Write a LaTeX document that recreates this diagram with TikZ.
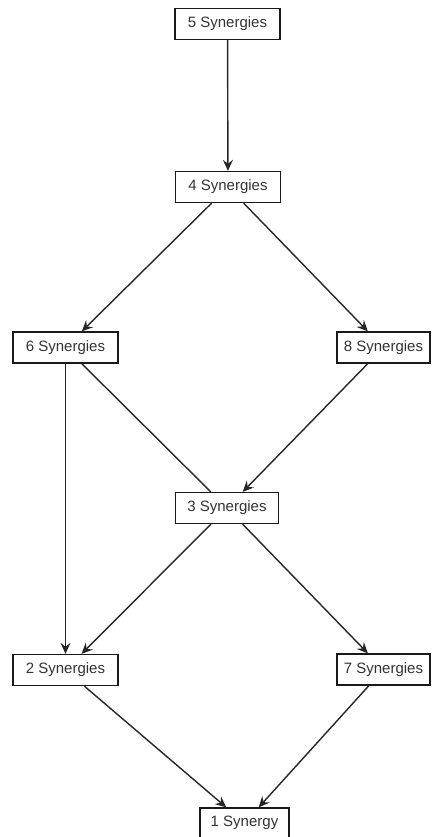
\documentclass[tikz,border=0pt]{standalone}
\usepackage{fontspec}
\setmainfont{Liberation Sans}
\usetikzlibrary{arrows.meta}
\begin{document}
\begin{tikzpicture}[x=1pt,y=-1pt,
  box/.style={draw=black!90, line width=1.3pt, fill=white, rectangle,
    minimum width=105pt, minimum height=31pt, inner sep=0pt,
    font=\fontsize{15}{17}\selectfont, text=black!80},
  narrowbox/.style={box, minimum width=93pt},
  arr/.style={line width=1.4pt, draw=black!85,
    -{Stealth[length=11pt,width=10pt,inset=4pt]}},
  link/.style={line width=1.4pt, draw=black!85}]
\clip (0,0) rectangle (432,837);

% lattice of synergy counts
\node[box] (n5) at (227.5,24) {5 Synergies};
\node[box] (n4) at (228,187) {4 Synergies};
\node[box] (n6) at (65.5,347.5) {6 Synergies};
\node[narrowbox] (n8) at (383.5,347.5) {8 Synergies};
\node[box, minimum width=103pt] (n3) at (227,508) {3 Synergies};
\node[box] (n2) at (65.5,670) {2 Synergies};
\node[narrowbox] (n7) at (383.5,669.5) {7 Synergies};
\node[box, minimum width=89pt, minimum height=30pt] (n1) at (244.5,823) {1 Synergy};

% connectors
\draw[arr] (n5) -- (n4);
\draw[arr] (n4) -- (n6);
\draw[arr] (n4) -- (n8);
\draw[arr] (n8) -- (n3);
\draw[link] (n6) -- (n3);
\draw[arr] (n6) -- (n2);
\draw[arr] (n3) -- (n2);
\draw[arr] (n3) -- (n7);
\draw[arr] (n2) -- (n1);
\draw[arr] (n7) -- (n1);
\end{tikzpicture}
\end{document}
